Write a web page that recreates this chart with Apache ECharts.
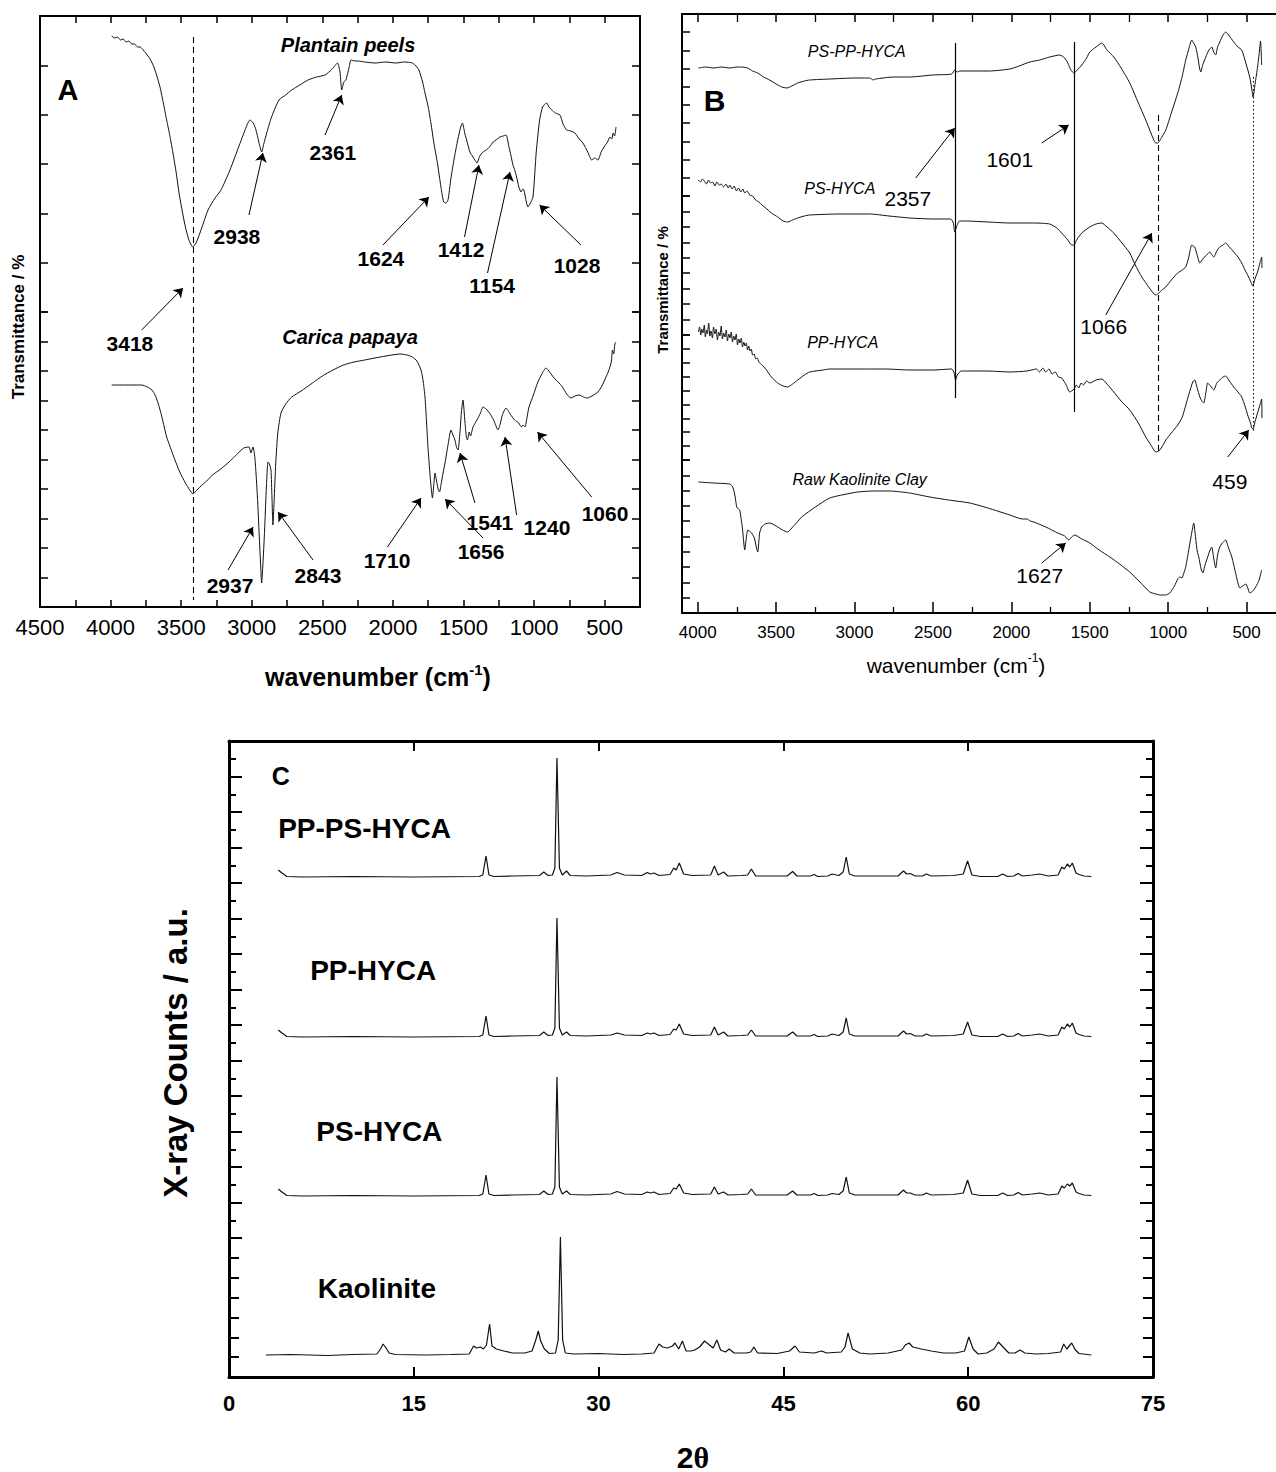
<!DOCTYPE html>
<html><head><meta charset="utf-8">
<script src="https://cdn.jsdelivr.net/npm/echarts@6/dist/echarts.min.js"></script>
<style>html,body{margin:0;padding:0;background:#fff}#c{width:1276px;height:1472px}</style>
</head><body><div id="c"></div>
<script>
// ---------- Panel A : FTIR of biomass (wavenumber, transmittance a.u.) ----------
const A_plantain = [[3992,571],[3970,569],[3950,570],[3930,567],[3910,568],[3890,565],[3870,566],[3850,563],[3830,563],[3809,560],[3790,560],[3770,557],[3751,554],[3735,551],[3720,548],[3693,540],[3670,530],[3650,520],[3625,503],[3603,487],[3580,471],[3558,454],[3535,434],[3515,414],[3490,394],[3470,380],[3445,367],[3418,360],[3395,364],[3367,374],[3340,385],[3310,397],[3260,409],[3218,417],[3160,435],[3101,457],[3050,476],[3013,487],[2990,484],[2970,477],[2945,462],[2930,455],[2915,463],[2894,474],[2860,490],[2807,507],[2760,512],[2717,517],[2660,522],[2602,527],[2540,530],[2481,532],[2430,538],[2393,544],[2375,535],[2363,517],[2348,525],[2333,527],[2310,540],[2297,547],[2270,546],[2248,546],[2200,545],[2127,544],[2050,545],[1978,544],[1920,545],[1862,544],[1830,540],[1816,537],[1790,525],[1773,514],[1750,500],[1731,484],[1710,464],[1685,444],[1660,420],[1641,405],[1625,404],[1610,407],[1590,428],[1568,447],[1540,468],[1520,480],[1508,484],[1490,473],[1478,467],[1455,455],[1433,450],[1420,447],[1405,444],[1385,451],[1362,455],[1340,457],[1316,460],[1290,465],[1270,467],[1242,470],[1220,471],[1199,472],[1178,460],[1165,452],[1150,442],[1135,436],[1124,430],[1108,420],[1093,415],[1080,418],[1072,417],[1055,405],[1044,400],[1030,403],[1008,410],[985,455],[961,487],[940,500],[911,504],[895,500],[874,497],[850,494],[817,492],[795,483],[770,477],[740,476],[711,474],[680,468],[654,464],[620,455],[592,447],[570,449],[548,447],[525,455],[505,460],[480,465],[463,470],[450,468],[440,474],[430,471],[420,480]];
const A_papaya = [[3992,222],[3900,222],[3850,222],[3780,222],[3740,220],[3707,217],[3685,212],[3664,204],[3640,192],[3620,180],[3603,170],[3570,157],[3544,147],[3510,135],[3470,124],[3440,117],[3416,113],[3395,116],[3367,120],[3320,126],[3278,132],[3220,138],[3161,145],[3110,152],[3057,159],[3020,160],[3006,154],[2991,160],[2980,152],[2970,134],[2958,105],[2949,77],[2938,45],[2930,24],[2922,40],[2909,77],[2898,115],[2885,145],[2875,143],[2864,137],[2857,110],[2850,82],[2842,105],[2830,144],[2815,175],[2793,194],[2760,203],[2717,210],[2650,216],[2570,224],[2500,231],[2425,237],[2350,242],[2276,245],[2200,247],[2127,249],[2050,251],[1950,253],[1900,252],[1862,250],[1830,246],[1801,237],[1785,225],[1773,210],[1762,185],[1752,160],[1736,130],[1720,109],[1711,122],[1702,134],[1690,125],[1678,117],[1670,115],[1660,122],[1645,134],[1631,144],[1610,162],[1589,177],[1575,172],[1561,167],[1550,160],[1539,157],[1525,175],[1515,195],[1504,207],[1490,185],[1480,170],[1472,167],[1460,175],[1450,171],[1433,180],[1405,187],[1380,194],[1362,200],[1340,198],[1316,194],[1290,188],[1270,181],[1256,177],[1240,183],[1225,192],[1199,199],[1170,193],[1138,187],[1109,184],[1090,180],[1079,182],[1065,180],[1050,190],[1036,200],[1005,212],[976,224],[945,233],[916,239],[890,235],[859,229],[830,225],[799,220],[770,213],[739,209],[710,211],[682,212],[650,210],[622,209],[590,211],[548,215],[520,221],[491,230],[475,235],[463,240],[452,246],[445,257],[436,253],[428,263],[420,265]];
const A_xTickLabels = [4500,4000,3500,3000,2500,2000,1500,1000,500];
const A_labels = [['Plantain peels',2318,562,'name'],['Carica papaya',2304,270,'name'],['A',4302,517,'panel'],['3418',3863,264,'num'],['2938',3105,371,'num'],['2361',2425,455,'num'],['1624',2085,349,'num'],['1412',1518,358,'num'],['1154',1298,322,'num'],['1028',696,342,'num'],['2937',3154,22,'num'],['2843',2531,32,'num'],['1710',2042,47,'num'],['1656',1376,56,'num'],['1541',1313,85,'num'],['1240',909,80,'num'],['1060',498,94,'num']];
const A_arrows = [[3780,277,3487,319],[3020,392,2921,454],[2481,472,2363,512],[2071,362,1745,410],[1493,370,1391,442],[1330,334,1171,435],[668,362,961,402],[3168,37,2991,80],[2566,47,2814,95],[2039,60,1801,109],[1362,69,1631,108],[1419,104,1525,154],[1124,92,1206,170],[592,110,976,175]];
const A_refLines = [[3418,570,7,'dashed']];

// ---------- Panel B : FTIR of adsorbents ----------
const B_pspp = [[3995,545],[3950,546],[3900,545],[3850,546],[3796,545],[3750,546],[3720,546],[3681,545],[3650,542],[3617,540],[3580,536],[3541,533],[3500,529],[3464,526],[3430,525],[3400,527],[3362,530],[3320,532],[3286,533],[3158,534],[3000,535],[2903,535],[2880,533],[2865,534],[2750,536],[2648,536],[2500,538],[2380,539],[2361,543],[2345,541],[2329,542],[2250,542],[2138,542],[2010,544],[1950,547],[1883,551],[1820,553],[1755,556],[1691,558],[1660,555],[1640,550],[1620,543],[1601,540],[1580,543],[1551,548],[1520,555],[1500,561],[1460,566],[1423,570],[1390,563],[1347,556],[1300,545],[1245,530],[1190,510],[1143,493],[1110,480],[1079,470],[1066,470],[1040,476],[1015,483],[980,500],[939,520],[910,537],[888,553],[865,566],[850,573],[838,570],[824,566],[810,555],[800,545],[792,541],[780,548],[760,556],[740,563],[722,566],[710,561],[697,558],[685,566],[671,571],[650,578],[633,581],[610,577],[582,571],[555,566],[531,563],[505,550],[480,536],[465,522],[459,516],[445,530],[430,546],[418,562],[411,572],[404,548]];
const B_ps = [[3995,433],[3982,431],[3970,434],[3958,432],[3945,429],[3930,433],[3918,430],[3905,431],[3890,427],[3878,431],[3862,428],[3850,429],[3835,426],[3820,429],[3805,425],[3796,428],[3780,424],[3768,427],[3752,422],[3740,425],[3725,421],[3712,424],[3700,420],[3685,422],[3668,418],[3650,417],[3630,413],[3610,411],[3590,408],[3566,405],[3530,400],[3490,396],[3455,392],[3426,391],[3395,393],[3362,395],[3320,397],[3286,398],[3100,399],[2903,399],[2780,397],[2648,395],[2500,394],[2387,394],[2370,390],[2361,381],[2350,386],[2330,392],[2291,392],[2150,391],[2010,390],[1850,390],[1755,389],[1710,385],[1679,380],[1640,373],[1615,368],[1602,368],[1580,374],[1551,380],[1500,386],[1460,389],[1423,390],[1390,386],[1347,380],[1300,371],[1245,360],[1210,348],[1168,336],[1120,325],[1090,319],[1079,318],[1060,320],[1040,323],[1015,326],[980,333],[939,340],[910,343],[888,346],[870,355],[850,368],[840,367],[831,366],[815,358],[798,350],[775,355],[754,358],[735,361],[720,358],[709,356],[690,362],[671,366],[650,368],[633,370],[610,366],[582,361],[555,356],[531,350],[510,343],[487,336],[470,330],[461,327],[445,335],[430,341],[415,350],[404,356],[402,345]];
const B_pp = [[3995,281],[3988,286],[3980,278],[3974,284],[3966,280],[3958,288],[3951,276],[3944,283],[3938,279],[3930,290],[3922,277],[3915,282],[3906,275],[3899,286],[3890,279],[3882,284],[3874,273],[3866,281],[3858,277],[3850,287],[3842,274],[3834,280],[3826,276],[3818,283],[3810,272],[3802,279],[3794,275],[3786,281],[3778,271],[3770,277],[3762,273],[3754,279],[3746,268],[3738,274],[3730,270],[3722,275],[3714,266],[3706,271],[3698,267],[3690,270],[3682,263],[3674,267],[3666,262],[3658,264],[3650,258],[3640,259],[3630,254],[3620,255],[3610,251],[3590,248],[3566,244],[3530,236],[3490,230],[3455,227],[3426,226],[3395,229],[3362,233],[3320,238],[3286,241],[3200,243],[3158,244],[3000,244],[2903,244],[2800,244],[2648,243],[2500,243],[2380,244],[2365,240],[2355,233],[2345,238],[2320,242],[2291,242],[2150,242],[2010,241],[1900,242],[1840,244],[1820,241],[1800,245],[1781,241],[1760,244],[1740,239],[1720,241],[1700,236],[1679,235],[1650,228],[1628,221],[1600,224],[1585,228],[1570,225],[1555,230],[1540,228],[1520,232],[1500,230],[1460,233],[1423,234],[1390,229],[1347,221],[1300,212],[1245,203],[1190,190],[1143,176],[1110,168],[1079,161],[1060,162],[1040,166],[1015,173],[980,180],[939,188],[910,196],[875,215],[850,228],[840,232],[831,233],[815,225],[798,216],[785,212],[773,210],[760,220],[748,230],[730,227],[709,223],[690,230],[671,233],[650,236],[633,237],[610,232],[582,226],[555,221],[531,216],[510,207],[493,198],[475,190],[467,185],[459,184],[445,192],[430,200],[415,208],[404,214],[402,195]];
const B_raw = [[3995,131],[3900,130],[3796,129],[3780,127],[3770,123],[3760,115],[3751,106],[3740,104],[3732,103],[3715,85],[3700,63],[3690,75],[3681,83],[3670,82],[3656,80],[3645,77],[3638,75],[3625,65],[3617,61],[3605,80],[3592,86],[3570,89],[3541,90],[3500,87],[3460,83],[3426,81],[3400,85],[3370,90],[3337,96],[3250,106],[3158,115],[3050,119],[2980,121],[2880,122],[2776,122],[2650,120],[2520,116],[2400,113],[2265,110],[2150,105],[2010,98],[1930,94],[1900,94],[1880,92],[1857,91],[1780,86],[1704,80],[1660,77],[1634,73],[1615,76],[1596,78],[1550,74],[1500,70],[1440,63],[1372,56],[1310,49],[1245,41],[1180,31],[1117,21],[1080,19],[1050,18],[1015,18],[990,20],[960,27],[939,34],[925,36],[913,35],[900,40],[888,46],[870,62],[850,80],[837,90],[825,75],[815,62],[805,56],[790,44],[779,40],[765,48],[748,56],[735,62],[722,66],[710,55],[697,45],[685,58],[671,66],[655,70],[640,72],[633,73],[615,65],[594,56],[570,40],[543,25],[525,27],[505,29],[490,24],[480,20],[460,22],[442,26],[420,33],[404,43]];
const B_xTickLabels = [4000,3500,3000,2500,2000,1500,1000,500];
const B_labels = [['PS-PP-HYCA',2986,562,'iname'],['PS-HYCA',3094,425,'iname'],['PP-HYCA',3075,271,'iname'],['Raw Kaolinite Clay',2967,134,'iname'],['B',3892,513,'panel'],['2357',2660,415,'num'],['1601',2010,454,'num'],['1066',1411,287,'num'],['459',607,132,'num'],['1627',1819,38,'num']];
const B_arrows = [[2610,435,2361,485],[1806,470,1634,488],[1398,298,1104,380],[620,156,486,183],[1806,50,1653,70]];
const B_refLines = [[2357,570,215,'solid'],[1601,571,201,'solid'],[1066,498,158,'dashed'],[459,536,181,'dotted']];

// ---------- Panel C : XRD (2theta, counts above own baseline) ----------
const C_ppps = [[4.0,7],[4.3,4],[4.7,0.5],[6,0],[10,0.5],[15,0],[20.3,0.5],[20.6,2],[20.86,21],[21.1,2],[21.5,0.5],[23,1],[25.2,1.5],[25.55,5],[25.9,1.5],[26.25,2],[26.45,9],[26.62,119],[26.82,9],[27.05,2],[27.4,6],[27.7,1.5],[29,1],[31,2],[31.5,4.5],[32.1,2],[33.5,1.5],[33.95,4.5],[34.2,3],[34.5,4],[34.9,1.5],[35.8,2.5],[36.1,9],[36.3,7],[36.55,14],[36.9,3],[37.6,1.5],[39.1,2],[39.4,11],[39.7,2],[40.15,5],[40.5,1],[41.6,1.5],[42.1,2],[42.4,8],[42.75,1],[45.3,1],[45.75,5.5],[46.1,1],[47.2,1],[47.5,2.5],[47.8,0.5],[48.6,1],[48.95,3],[49.5,1.5],[49.85,5],[50.1,20],[50.35,3],[50.8,1],[54.3,1],[54.75,6],[55.0,3],[55.3,3.5],[55.7,1],[56.3,1],[56.6,3],[57.0,1],[58.8,1.5],[59.6,3],[59.95,16],[60.3,2],[61,0.5],[62.4,0.5],[62.8,3],[63.2,0.5],[63.7,1],[64.05,3.5],[64.4,1],[65.2,2],[65.8,3],[66.5,1],[67.3,2],[67.6,10],[67.8,8],[68.05,13],[68.25,10],[68.45,14],[68.75,4],[69.0,2.5],[69.4,1],[70,0.5]];
const C_pp = [[4.0,7],[4.3,4],[4.7,0.5],[6,0],[10,0.5],[15,0],[20.3,0.5],[20.6,2],[20.86,21],[21.1,2],[21.5,0.5],[23,1],[25.2,1.5],[25.55,5],[25.9,1.5],[26.25,2],[26.45,9],[26.62,119],[26.82,9],[27.05,2],[27.4,5],[27.7,1.5],[29,1],[31,2],[31.5,4],[32.1,2],[33.5,1.5],[33.95,4],[34.2,3],[34.5,4],[34.9,1.5],[35.8,2.5],[36.1,8],[36.3,7],[36.55,13],[36.9,3],[37.6,1.5],[39.1,2],[39.4,10],[39.7,2],[40.15,5],[40.5,1],[41.6,1.5],[42.1,2],[42.4,7],[42.75,1],[45.3,1],[45.75,5],[46.1,1],[47.2,1],[47.5,2.5],[47.8,0.5],[48.6,1],[48.95,3],[49.5,1.5],[49.85,5],[50.1,19],[50.35,3],[50.8,1],[54.3,1],[54.75,6],[55.0,3],[55.3,3.5],[55.7,1],[56.3,1],[56.6,3],[57.0,1],[58.8,1.5],[59.6,3],[59.95,15],[60.3,2],[61,0.5],[62.4,0.5],[62.8,3],[63.2,0.5],[63.7,1],[64.05,3.5],[64.4,1],[65.2,2],[65.8,3],[66.5,1],[67.3,2],[67.6,10],[67.8,8],[68.05,13],[68.25,10],[68.45,14],[68.75,4],[69.0,2.5],[69.4,1],[70,0.5]];
const C_ps = [[4.0,7],[4.3,4],[4.7,0.5],[6,0],[10,0.5],[15,0],[20.3,0.5],[20.6,2],[20.86,21],[21.1,2],[21.5,0.5],[23,1],[25.2,1.5],[25.55,5],[25.9,1.5],[26.25,2],[26.45,9],[26.62,119],[26.82,9],[27.05,2],[27.4,5],[27.7,1.5],[29,1],[31,2],[31.5,4.5],[32.1,2],[33.5,1.5],[33.95,4],[34.2,3],[34.5,4],[34.9,1.5],[35.8,2.5],[36.1,8],[36.3,7],[36.55,12],[36.9,3],[37.6,1.5],[39.1,2],[39.4,9],[39.7,2],[40.15,4],[40.5,1],[41.6,1.5],[42.1,2],[42.4,7],[42.75,1],[45.3,1],[45.75,5],[46.1,1],[47.2,1],[47.5,2.5],[47.8,0.5],[48.6,1],[48.95,2.5],[49.5,1.5],[49.85,5],[50.1,19],[50.35,3],[50.8,1],[54.3,1],[54.75,6],[55.0,3],[55.3,3],[55.7,1],[56.3,1],[56.6,3],[57.0,1],[58.8,1.5],[59.6,3],[59.95,16],[60.3,2],[61,0.5],[62.4,0.5],[62.8,3],[63.2,0.5],[63.7,1],[64.05,3.5],[64.4,1],[65.2,2],[65.8,3],[66.5,1],[67.3,2],[67.6,10],[67.8,8],[68.05,12],[68.25,10],[68.45,13],[68.75,4],[69.0,2.5],[69.4,1],[70,0.5]];
const C_kao = [[3.0,0],[5,0.5],[8,-0.5],[10,0.5],[12.0,1],[12.3,6],[12.5,11],[12.75,7],[13.0,2],[13.5,0.5],[16,0],[18,0.5],[19.5,1],[19.85,9],[20.1,7],[20.4,8],[20.65,6],[20.9,10],[21.15,31],[21.35,9],[21.7,6],[22.3,4],[23,2],[24,2],[24.6,4],[24.9,15],[25.1,24],[25.3,14],[25.6,6],[26.0,1.5],[26.5,2],[26.72,15],[26.9,118],[27.08,15],[27.3,2],[28,1],[30,1.5],[32,0.5],[33.5,1],[34.5,2],[34.9,11],[35.2,8],[35.6,7],[36.0,9],[36.2,12],[36.5,6],[36.8,14],[37.1,4],[37.5,4],[37.8,5],[38.2,8],[38.6,14],[39.0,10],[39.3,7],[39.6,15],[39.9,5],[40.3,3],[40.6,6],[41.0,2],[42.0,2],[42.35,3],[42.6,8],[42.9,2],[44.5,1.5],[45.5,4],[45.95,9],[46.3,3],[47.5,2],[48.1,4],[48.5,2],[49.7,3],[50.0,8],[50.25,22],[50.6,6],[51.2,2],[52,1],[53.5,2],[54.6,5],[54.9,10],[55.2,12],[55.5,8],[56.2,6],[57,4],[58,2],[59,2],[59.7,4],[60.05,18],[60.4,6],[60.8,1],[61.5,2],[62.1,6],[62.45,13],[62.9,7],[63.3,2],[63.8,2],[64.2,5],[64.6,2],[65.5,1],[66.5,1.5],[67.5,3],[67.75,11],[68.0,6],[68.2,9],[68.4,12],[68.7,5],[69.0,1.5],[70.0,0]];
const C_offsets = [500, 340, 181, 22];
const C_xTickLabels = [0,15,30,45,60,75];
const C_labels = [['C',4.2,601,'panel'],['PP-PS-HYCA',11.0,549,'name'],['PP-HYCA',11.7,407,'name'],['PS-HYCA',12.2,246,'name'],['Kaolinite',12.0,89,'name']];

// ---------- styling ----------
const SANS = "'Liberation Sans', Arial, sans-serif";
const NARROW = "'Liberation Sans Narrow', 'Arial Narrow', 'Liberation Sans', sans-serif";
const INK = '#000';

function curve(data, xi, yi, smooth, w) {
  return {type:'line', xAxisIndex:xi, yAxisIndex:yi, data:data, showSymbol:false, symbol:'none',
    smooth:smooth, lineStyle:{color:'#111', width:w||1}, silent:true, z:3, clip:false};
}
function arrowSeries(list, xi, yi) {
  return {type:'lines', coordinateSystem:'cartesian2d', xAxisIndex:xi, yAxisIndex:yi,
    symbol:['none','arrow'], symbolSize:9, silent:true, z:4,
    lineStyle:{color:INK, width:1, opacity:1},
    data:list.map(a=>({coords:[[a[0],a[1]],[a[2],a[3]]]}))};
}
function refSeries(list, xi, yi) {
  const dash = {solid:'solid', dashed:[6,4], dotted:[1.5,2.5]};
  return list.map(r=>({type:'lines', coordinateSystem:'cartesian2d', xAxisIndex:xi, yAxisIndex:yi,
    symbol:['none','none'], silent:true, z:2,
    lineStyle:{color:INK, width:(r[3]==='solid'?1.2:1.1), opacity:1, type:dash[r[3]]},
    data:[{coords:[[r[0],r[1]],[r[0],r[2]]]}]}));
}
function textSeries(list, xi, yi, styles) {
  return {type:'scatter', xAxisIndex:xi, yAxisIndex:yi, symbolSize:1, silent:true, clip:false, z:5,
    itemStyle:{color:'rgba(0,0,0,0)', opacity:1},
    label:{show:true, position:'inside', color:INK, opacity:1, textBorderWidth:0, formatter:'{b}'},
    data:list.map(t=>({name:t[0], value:[t[1],t[2]], label:Object.assign({color:INK, opacity:1, textBorderWidth:0}, styles[t[3]])}))};
}
const A_styles = {name:{fontSize:20,fontWeight:'bold',fontStyle:'italic',fontFamily:SANS},
  num:{fontSize:21,fontWeight:'bold',fontFamily:SANS}, panel:{fontSize:29,fontWeight:'bold',fontFamily:SANS}};
const B_styles = {iname:{fontSize:16,fontStyle:'italic',fontFamily:NARROW},
  num:{fontSize:21,fontFamily:NARROW}, panel:{fontSize:30,fontWeight:'bold',fontFamily:SANS}};
const C_styles = {name:{fontSize:28,fontWeight:'bold',fontFamily:SANS}, panel:{fontSize:25,fontWeight:'bold',fontFamily:SANS}};

const hiddenX = g => ({gridIndex:g, type:'value', show:false, min:0, max:1});
function tickY(g, max, pos, len, lw, extra) {
  return Object.assign({gridIndex:g, type:'value', min:0, max:max, interval:1, position:pos,
    axisLine:{show:false, onZero:false}, axisTick:{show:true, inside:true, length:len, lineStyle:{color:INK, width:lw}},
    axisLabel:{show:false}, splitLine:{show:false}}, extra||{});
}
function frameY(g, max, pos, lw) {
  return {gridIndex:g, type:'value', min:0, max:max, position:pos,
    axisLine:{show:true, onZero:false, lineStyle:{color:INK, width:lw}}, axisTick:{show:false},
    axisLabel:{show:false}, splitLine:{show:false}};
}
const G = (l,t,w,h) => ({left:l, top:t, width:w, height:h, outerBoundsMode:'none', containLabel:false});
const grid = [
  G(40,16,600,591),      //0 A data
  G(40,16,600,296),      //1 A ticks upper
  G(40,312,600,295),     //2 A ticks lower
  G(682,14,643,599),     //3 B data
  G(682,14,643,182),     //4 B ticks R1
  G(682,196,643,139),    //5 B ticks R2
  G(682,335,643,125),    //6 B ticks R3
  G(682,460,643,153),    //7 B ticks R4
  G(229,741,924,636),    //8 C data
  G(229,741,924,497),    //9 C ticks upper
  G(229,1238,924,139)    //10 C ticks lower
];

const xA = pos => ({gridIndex:0, type:'value', min:250, max:4500, interval:250, inverse:true, position:pos,
  axisLine:{show:true, onZero:false, lineStyle:{color:INK, width:2}},
  axisTick:{show:true, inside:true, length:7, lineStyle:{color:INK, width:1.5}},
  axisLabel:{show:pos==='bottom', margin:9, fontSize:22, fontFamily:SANS, color:INK,
    formatter:v=>A_xTickLabels.includes(v)?String(v):''},
  splitLine:{show:false}});
const xB = pos => ({gridIndex:3, type:'value', min:0, max:4100, interval:500, inverse:true, position:pos,
  axisLine:{show:true, onZero:false, lineStyle:{color:INK, width:2}},
  axisTick:{show:true, inside:true, length:pos==='bottom'?11:8, lineStyle:{color:INK, width:1.5}},
  minorTick:{show:true, splitNumber:2, length:pos==='bottom'?6:8, lineStyle:{color:INK, width:1.3}},
  axisLabel:{show:pos==='bottom', margin:11, fontSize:17, fontFamily:NARROW, color:INK,
    formatter:v=>B_xTickLabels.includes(v)?String(v):''},
  splitLine:{show:false}, minorSplitLine:{show:false}});
const xC = pos => ({gridIndex:8, type:'value', min:0, max:75, interval:15, position:pos,
  axisLine:{show:true, onZero:false, lineStyle:{color:INK, width:3}},
  axisTick:{show:true, inside:true, length:10, lineStyle:{color:INK, width:2}},
  axisLabel:{show:pos==='bottom', margin:15, fontSize:22, fontWeight:'bold', fontFamily:SANS, color:INK,
    formatter:v=>C_xTickLabels.includes(v)?String(v):''},
  splitLine:{show:false}});

const xAxis = [xA('bottom'), xA('top'), hiddenX(1), hiddenX(2),
  xB('bottom'), xB('top'), hiddenX(4), hiddenX(5), hiddenX(6), hiddenX(7),
  xC('bottom'), xC('top'), hiddenX(9), hiddenX(10)];

const frameLine = w => ({axisLine:{show:true,onZero:false,lineStyle:{color:INK,width:w}}});
const yAxis = [
  {gridIndex:0, type:'value', show:false, min:0, max:591},                 //0
  tickY(1,6,'left',8,1.5,frameLine(2)), tickY(1,6,'right',8,1.5,frameLine(2)),   //1-2
  tickY(2,10,'left',8,1.5,frameLine(2)), tickY(2,10,'right',8,1.5,frameLine(2)), //3-4
  frameY(3,599,'left',2), frameY(3,599,'right',2),                          //5-6
  tickY(4,10,'left',8,1.5), tickY(5,9,'left',8,1.5), tickY(6,9,'left',8,1.5), tickY(7,10,'left',8,1.5), //7-10
  frameY(8,636,'left',3), frameY(8,636,'right',3),                          //11-12
  tickY(9,28,'left',13,2,{interval:2, minorTick:{show:true,splitNumber:2,length:7,lineStyle:{color:INK,width:2}}}), //13
  tickY(9,28,'right',13,2,{interval:2, minorTick:{show:true,splitNumber:2,length:7,lineStyle:{color:INK,width:2}}}),//14
  tickY(10,7,'left',10,2), tickY(10,7,'right',10,2)                         //15-16
];

const series = [
  curve(A_plantain,0,0,0.2), curve(A_papaya,0,0,0.2),
  arrowSeries(A_arrows,0,0), ...refSeries(A_refLines,0,0), textSeries(A_labels,0,0,A_styles),
  curve(B_pspp,4,5,0.2), curve(B_ps,4,5,0.2), curve(B_pp,4,5,0.2), curve(B_raw,4,5,0.2),
  arrowSeries(B_arrows,4,5), ...refSeries(B_refLines,4,5), textSeries(B_labels,4,5,B_styles),
  ...[C_ppps, C_pp, C_ps, C_kao].map((d,i)=>curve(d.map(p=>[p[0], C_offsets[i]+p[1]]),10,11,false,1.2)),
  textSeries(C_labels,10,11,C_styles)
];

const supRich = (size, supSize, fam, weight) => ({
  a:{fontSize:size, fontFamily:fam, fontWeight:weight, fill:INK, lineHeight:size+6},
  s:{fontSize:supSize, fontFamily:fam, fontWeight:weight, fill:INK, lineHeight:size+6, verticalAlign:'top'}});

const graphic = [
  {type:'text', x:378, y:677, silent:true, style:{text:'{a|wavenumber (cm}{s|-1}{a|)}', rich:supRich(25,15,SANS,'bold'), align:'center', verticalAlign:'middle'}},
  {type:'text', x:18, y:327, rotation:Math.PI/2, silent:true, style:{text:'Transmittance / %', fontSize:17, fontWeight:'bold', fontFamily:SANS, fill:INK, align:'center', verticalAlign:'middle'}},
  {type:'text', x:956, y:665, silent:true, style:{text:'{a|wavenumber (cm}{s|-1}{a|)}', rich:supRich(21,12,NARROW,'normal'), align:'center', verticalAlign:'middle'}},
  {type:'text', x:662, y:290, rotation:Math.PI/2, silent:true, style:{text:'Transmittance / %', fontSize:15, fontWeight:'bold', fontFamily:SANS, fill:INK, align:'center', verticalAlign:'middle'}},
  {type:'text', x:693, y:1457, silent:true, style:{text:'{a|2}{b|θ}', rich:{a:{fontSize:30,fontWeight:'bold',fontFamily:SANS,fill:INK},b:{fontSize:30,fontWeight:'bold',fontFamily:"'Liberation Serif', serif",fill:INK}}, align:'center', verticalAlign:'middle'}},
  {type:'text', x:175, y:1053, rotation:Math.PI/2, silent:true, style:{text:'X-ray Counts / a.u.', fontSize:33, fontWeight:'bold', fontFamily:SANS, fill:INK, align:'center', verticalAlign:'middle'}}
];

const chart = echarts.init(document.getElementById('c'), null, {renderer:'svg'});
chart.setOption({animation:false, backgroundColor:'#fff', textStyle:{fontFamily:SANS},
  grid:grid, xAxis:xAxis, yAxis:yAxis, series:series, graphic:graphic});
</script></body></html>
